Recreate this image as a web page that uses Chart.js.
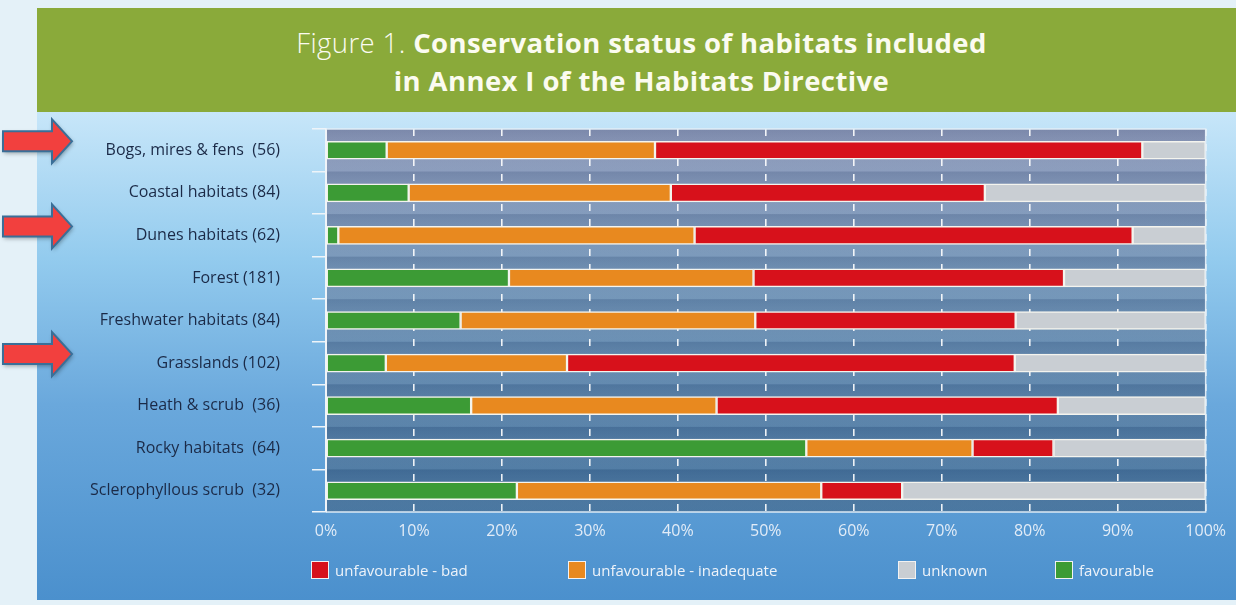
<!DOCTYPE html>
<html>
<head>
<meta charset="utf-8">
<script src="https://cdn.jsdelivr.net/npm/chart.js@4"></script>
<style>
html,body{margin:0;padding:0;}
body{width:1236px;height:605px;background:#e4f1f8;position:relative;overflow:hidden;font-family:"Open Sans",sans-serif;}
#header{position:absolute;left:37px;top:8px;width:1199px;height:104px;background:#8aaa3a;color:#fbfbf0;text-align:center;}
#header .l1{position:absolute;left:10px;right:0;top:18px;font-size:27.5px;line-height:34px;font-weight:700;letter-spacing:0.4px;}
#header .l2{position:absolute;left:10px;right:0;top:56px;font-size:27.5px;line-height:34px;font-weight:700;letter-spacing:0.4px;}
#header .fig{font-weight:300;}
#panel{position:absolute;left:37px;top:112px;width:1199px;height:488px;
  background:linear-gradient(to bottom,#c7e6f9 0%,#93cbee 30%,#6aa8dc 60%,#4b90cd 100%);}
#chartBox{position:absolute;left:0;top:0;width:1236px;height:605px;}
#legend{position:absolute;left:0;top:560px;width:1236px;height:22px;}
.item{position:absolute;top:0;display:flex;align-items:center;font-size:15px;color:#eef3f9;}
.box{width:16px;height:16px;border:1.5px solid #f2f2f2;margin-right:6px;}
</style>
</head>
<body>
<div id="header">
  <div class="l1"><span class="fig">Figure 1.</span> Conservation status of habitats included</div>
  <div class="l2">in Annex I of the Habitats Directive</div>
</div>
<div id="panel"></div>
<div id="chartBox"><canvas id="statusChart" width="1236" height="605"></canvas></div>
<div id="legend"></div>
<script>
const categories = [
  'Bogs, mires & fens  (56)',
  'Coastal habitats (84)',
  'Dunes habitats (62)',
  'Forest (181)',
  'Freshwater habitats (84)',
  'Grasslands (102)',
  'Heath & scrub  (36)',
  'Rocky habitats  (64)',
  'Sclerophyllous scrub  (32)'
];
const favourable   = [6.9, 9.4, 1.4, 20.8, 15.3, 6.8, 16.5, 54.6, 21.7];
const inadequate   = [30.5, 29.8, 40.5, 27.8, 33.5, 20.6, 27.9, 18.9, 34.6];
const bad          = [55.4, 35.7, 49.8, 35.3, 29.6, 50.9, 38.8, 9.2, 9.2];
const unknown      = [7.2, 25.1, 8.3, 16.1, 21.6, 21.7, 16.8, 17.3, 34.5];
const xTicks = [0, 10, 20, 30, 40, 50, 60, 70, 80, 90, 100];
const highlighted = ['Bogs, mires & fens  (56)', 'Dunes habitats (62)', 'Grasslands (102)'];

const plotBackground = {
  id: 'plotBackground',
  beforeDraw(chart) {
    const {ctx, chartArea: a} = chart;
    ctx.save();
    const g = ctx.createLinearGradient(0, a.top, 0, a.bottom);
    g.addColorStop(0, '#8d99ba');
    g.addColorStop(0.4, '#6f93b7');
    g.addColorStop(1, '#3f6f9b');
    ctx.fillStyle = g;
    ctx.fillRect(a.left, a.top, a.width, a.height);
    const step = a.height / categories.length;
    categories.forEach((c, i) => {
      const top = a.top + i * step;
      const bg = ctx.createLinearGradient(0, top, 0, top + step);
      bg.addColorStop(0, 'rgba(20,40,80,0.15)');
      bg.addColorStop(1, 'rgba(255,255,255,0.06)');
      ctx.fillStyle = bg;
      ctx.fillRect(a.left, top, a.width, step);
    });
    ctx.restore();
  },
  afterDraw(chart) {
    const {ctx, chartArea: a, scales: {y}} = chart;
    ctx.save();
    ctx.strokeStyle = 'rgba(228,238,247,0.95)';
    ctx.lineWidth = 1.5;
    ctx.beginPath();
    ctx.moveTo(a.left, a.top);
    ctx.lineTo(a.right, a.top);
    ctx.lineTo(a.right, a.bottom);
    ctx.lineTo(a.left, a.bottom);
    ctx.stroke();
    // red arrows pointing at the highlighted habitats
    highlighted.forEach(name => {
      const cy = y.getPixelForValue(categories.indexOf(name)) - 9;
      ctx.beginPath();
      ctx.moveTo(3, cy - 10);
      ctx.lineTo(52, cy - 10);
      ctx.lineTo(52, cy - 22);
      ctx.lineTo(72, cy);
      ctx.lineTo(52, cy + 22);
      ctx.lineTo(52, cy + 10);
      ctx.lineTo(3, cy + 10);
      ctx.closePath();
      ctx.shadowColor = 'rgba(0,0,0,0.35)';
      ctx.shadowBlur = 4;
      ctx.shadowOffsetX = 1;
      ctx.shadowOffsetY = 2;
      ctx.fillStyle = '#f2403e';
      ctx.fill();
      ctx.shadowColor = 'transparent';
      ctx.strokeStyle = '#3a6f98';
      ctx.lineWidth = 2;
      ctx.stroke();
    });
    ctx.restore();
  }
};

const datasets = [
  {label: 'favourable', data: favourable, backgroundColor: '#3c9b35'},
  {label: 'unfavourable - inadequate', data: inadequate, backgroundColor: '#e8891f'},
  {label: 'unfavourable - bad', data: bad, backgroundColor: '#d7111b'},
  {label: 'unknown', data: unknown, backgroundColor: '#c9ced3'}
].map(d => Object.assign(d, {borderColor: '#f4f4ee', borderWidth: 1.5, borderSkipped: false, barThickness: 18}));

const statusChart = new Chart(
  document.getElementById('statusChart'),
  {
    type: 'bar',
    data: {labels: categories, datasets: datasets},
    plugins: [plotBackground],
    options: {
      indexAxis: 'y',
      responsive: false,
      animation: false,
      layout: {padding: {left: 0, right: 27, top: 129, bottom: 0}},
      plugins: {legend: {display: false}, tooltip: {enabled: false}},
      scales: {
        x: {
          stacked: true,
          min: 0,
          max: 100,
          afterBuildTicks: s => { s.ticks = xTicks.map(v => ({value: v})); },
          afterFit: s => { s.height = 93; },
          ticks: {
            padding: 10,
            color: '#e2ecf7',
            font: {family: 'Open Sans', size: 16},
            callback: v => v + '%'
          },
          grid: {display: true, drawOnChartArea: true, color: 'rgba(255,255,255,0.9)', lineWidth: 1.6, drawTicks: false},
          border: {display: false, dash: [7, 8]}
        },
        y: {
          stacked: true,
          afterFit: s => { s.width = 326; },
          ticks: {
            padding: 32,
            color: '#1b2a47',
            font: {family: 'Open Sans', size: 16}
          },
          grid: {drawOnChartArea: false, drawTicks: true, tickLength: 14, color: '#eef4f9', lineWidth: 1.5, offset: true},
          border: {display: true, color: '#f0f4f8', width: 2}
        }
      }
    }
  }
);

// legend, in the reference order
const legendOrder = ['unfavourable - bad', 'unfavourable - inadequate', 'unknown', 'favourable'];
const legendLeft = [311, 568, 898, 1055];
const legend = document.getElementById('legend');
legendOrder.forEach((name, i) => {
  const d = datasets.find(ds => ds.label === name);
  const item = document.createElement('div');
  item.className = 'item';
  item.style.left = legendLeft[i] + 'px';
  item.innerHTML = '<div class="box" style="background:' + d.backgroundColor + '"></div>' + name;
  legend.appendChild(item);
});
</script>
</body>
</html>
